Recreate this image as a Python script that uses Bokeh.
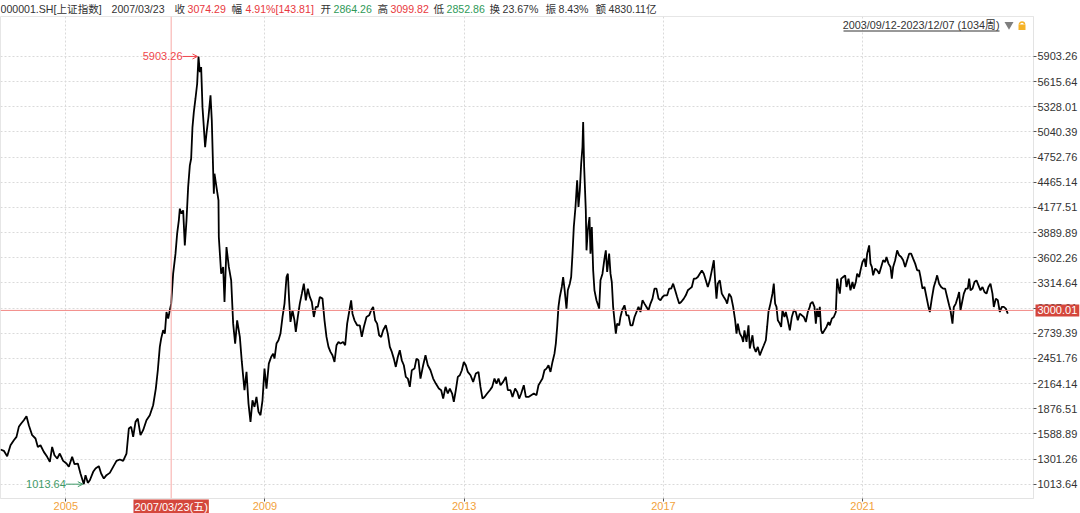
from bokeh.plotting import figure
from bokeh.models import (Range1d, FixedTicker, Span, Label, Arrow, OpenHead,
                          PrintfTickFormatter, GridBox)
from bokeh.embed import file_html
from bokeh.resources import INLINE

# ---------------- data (weekly closes) ----------------
t = [
    2003.689, 2003.756, 2003.823, 2003.890, 2003.957, 2004.010, 2004.057, 2004.104, 2004.157, 2004.211,
    2004.258, 2004.325, 2004.392, 2004.439, 2004.492, 2004.559, 2004.626, 2004.680, 2004.726, 2004.773,
    2004.827, 2004.880, 2004.947, 2005.014, 2005.061, 2005.128, 2005.175, 2005.242, 2005.295, 2005.362,
    2005.396, 2005.443, 2005.483, 2005.550, 2005.597, 2005.663, 2005.710, 2005.764, 2005.817, 2005.884,
    2005.951, 2006.018, 2006.085, 2006.152, 2006.219, 2006.266, 2006.313, 2006.353, 2006.400, 2006.446,
    2006.500, 2006.553, 2006.620, 2006.687, 2006.754, 2006.808, 2006.848, 2006.888, 2006.915, 2006.955,
    2006.989, 2007.022, 2007.056, 2007.089, 2007.116, 2007.156, 2007.203, 2007.236, 2007.270, 2007.290,
    2007.323, 2007.357, 2007.390, 2007.424, 2007.457, 2007.491, 2007.517, 2007.544, 2007.571, 2007.604,
    2007.638, 2007.665, 2007.691, 2007.718, 2007.745, 2007.772, 2007.798, 2007.825, 2007.865, 2007.906,
    2007.932, 2007.959, 2007.973, 2007.986, 2008.026, 2008.066,
    2008.073, 2008.120, 2008.160, 2008.187, 2008.227, 2008.274, 2008.321, 2008.361, 2008.401, 2008.441,
    2008.495, 2008.535, 2008.588, 2008.629, 2008.669, 2008.709, 2008.749, 2008.789, 2008.829, 2008.870,
    2008.910, 2008.950, 2008.990, 2009.030, 2009.077, 2009.124, 2009.164, 2009.191, 2009.231, 2009.271,
    2009.311, 2009.352, 2009.392, 2009.432, 2009.459, 2009.485, 2009.512, 2009.552, 2009.592, 2009.619,
    2009.659, 2009.699, 2009.740, 2009.780, 2009.820, 2009.860, 2009.900, 2009.940, 2009.981, 2010.021,
    2010.061, 2010.101, 2010.155, 2010.195, 2010.235, 2010.275, 2010.315, 2010.355, 2010.396, 2010.436,
    2010.476, 2010.516, 2010.569, 2010.610, 2010.650, 2010.690, 2010.730, 2010.757, 2010.797, 2010.851,
    2010.904, 2010.944, 2010.985, 2011.038, 2011.092, 2011.132, 2011.172, 2011.212, 2011.252, 2011.292,
    2011.333, 2011.373, 2011.426, 2011.466, 2011.507, 2011.547, 2011.587, 2011.627, 2011.667, 2011.707,
    2011.747, 2011.788, 2011.828, 2011.868, 2011.908, 2011.948, 2012.002, 2012.042, 2012.082, 2012.122,
    2012.176, 2012.223, 2012.270, 2012.323, 2012.377, 2012.430, 2012.491, 2012.538, 2012.578, 2012.625,
    2012.671, 2012.712, 2012.758, 2012.792, 2012.832, 2012.872, 2012.912, 2012.953, 2012.993, 2013.033,
    2013.073, 2013.127, 2013.180, 2013.234, 2013.287, 2013.327, 2013.368, 2013.408, 2013.461, 2013.515,
    2013.562, 2013.608, 2013.649, 2013.689, 2013.729, 2013.782, 2013.836, 2013.876, 2013.930, 2013.970,
    2014.023, 2014.064, 2014.104, 2014.144, 2014.197, 2014.238, 2014.291, 2014.345, 2014.398, 2014.452,
    2014.492, 2014.532, 2014.572, 2014.612, 2014.652, 2014.693, 2014.733, 2014.773, 2014.813, 2014.840,
    2014.867, 2014.893, 2014.920, 2014.960, 2014.987, 2015.014, 2015.054, 2015.081, 2015.121, 2015.148,
    2015.175, 2015.201, 2015.235, 2015.268, 2015.295, 2015.322, 2015.349, 2015.375, 2015.389, 2015.409,
    2015.442, 2015.456, 2015.482, 2015.516, 2015.536, 2015.563, 2015.590, 2015.616, 2015.656, 2015.710,
    2015.737, 2015.777, 2015.817, 2015.844, 2015.871, 2015.911, 2015.938, 2015.964, 2015.991, 2016.018,
    2016.045, 2016.071, 2016.112, 2016.138,
    2016.172, 2016.219, 2016.259, 2016.299, 2016.339, 2016.380, 2016.420, 2016.460, 2016.500, 2016.540,
    2016.580, 2016.620, 2016.661, 2016.701, 2016.741, 2016.781, 2016.821, 2016.861, 2016.902, 2016.942,
    2016.982, 2017.022, 2017.076, 2017.116, 2017.156, 2017.196, 2017.236, 2017.276, 2017.317, 2017.357,
    2017.410, 2017.450, 2017.491, 2017.531, 2017.571, 2017.611, 2017.651, 2017.691, 2017.731, 2017.772,
    2017.812, 2017.852, 2017.892, 2017.932, 2017.973, 2018.013, 2018.039, 2018.066, 2018.093, 2018.133,
    2018.173, 2018.213, 2018.254, 2018.280, 2018.320, 2018.361, 2018.401, 2018.441, 2018.468, 2018.495,
    2018.535, 2018.575, 2018.602, 2018.628, 2018.669, 2018.709, 2018.735, 2018.762, 2018.789, 2018.816,
    2018.856, 2018.896, 2018.936, 2018.976, 2019.017, 2019.057, 2019.083, 2019.110, 2019.150, 2019.190,
    2019.217, 2019.244, 2019.271, 2019.298, 2019.338, 2019.365, 2019.391, 2019.431, 2019.458, 2019.498,
    2019.539, 2019.579, 2019.619, 2019.659, 2019.699, 2019.739, 2019.780, 2019.820, 2019.860, 2019.900,
    2019.940,
    2019.954, 2019.994, 2020.034, 2020.061, 2020.088, 2020.115, 2020.141, 2020.168, 2020.195, 2020.235,
    2020.275, 2020.315, 2020.342, 2020.382, 2020.422, 2020.463, 2020.489, 2020.516, 2020.543, 2020.570,
    2020.610, 2020.650, 2020.677, 2020.717, 2020.757, 2020.797, 2020.824, 2020.864, 2020.891, 2020.931,
    2020.958, 2020.998, 2021.038, 2021.065, 2021.092, 2021.132, 2021.159, 2021.186, 2021.212, 2021.252,
    2021.293, 2021.333, 2021.373, 2021.413, 2021.453, 2021.480, 2021.520, 2021.560, 2021.587, 2021.614,
    2021.654, 2021.694, 2021.734, 2021.775, 2021.815, 2021.855, 2021.895, 2021.935, 2021.975, 2022.015,
    2022.056, 2022.096, 2022.136, 2022.163, 2022.203, 2022.243, 2022.283, 2022.323, 2022.350, 2022.390,
    2022.430, 2022.471, 2022.497, 2022.537, 2022.578, 2022.618, 2022.658, 2022.698, 2022.738, 2022.765,
    2022.805, 2022.832, 2022.872, 2022.912, 2022.939, 2022.966, 2023.006, 2023.033, 2023.073, 2023.113,
    2023.140, 2023.167, 2023.207, 2023.247, 2023.287, 2023.327, 2023.367, 2023.408, 2023.448, 2023.488,
    2023.528, 2023.568, 2023.608, 2023.635, 2023.675, 2023.715, 2023.756, 2023.796, 2023.836, 2023.876,
    2023.916,
]
close = [
    1410, 1395, 1334, 1459, 1516, 1554, 1669, 1707, 1745, 1791,
    1688, 1574, 1536, 1440, 1459, 1383, 1326, 1269, 1440, 1345,
    1307, 1364, 1280, 1250, 1212, 1326, 1242, 1250, 1136, 1013.64,
    1117, 1029, 1059, 1155, 1193, 1220, 1136, 1078, 1117, 1143,
    1212, 1280, 1296, 1280, 1364, 1650, 1669, 1554, 1726, 1764,
    1574, 1631, 1745, 1802, 1916, 2107, 2316, 2583, 2678, 2773,
    2735, 2982, 2906, 3002, 3074.29, 3420, 3649, 3877, 4030, 4163,
    4106, 4144, 3744, 4030, 4410, 4658, 4734, 5096, 5267, 5420,
    5591, 5903.26, 5724, 5781, 5324, 5096, 4867, 5020, 5210, 5458,
    5172, 4601, 4334, 4563, 4410, 4258,
    3839, 3420, 3497, 3097, 3725, 3497, 3344, 2849, 2621, 2887,
    2697, 2411, 2088, 2297, 1935, 1726, 1973, 1897, 2011, 1840,
    1802, 1973, 2335, 2107, 2392, 2468, 2506, 2449, 2621, 2659,
    2735, 2925, 3078, 3382, 3420, 3116, 2868, 3002, 2887, 2754,
    2925, 3078, 3192, 3306, 3116, 3249, 3154, 3097, 2925, 3040,
    3040, 3154, 3135, 2887, 2697, 2583, 2526, 2487, 2411, 2602,
    2640, 2621, 2640, 2602, 2849, 2982, 3116, 2963, 2887, 2830,
    2830, 2697, 2811, 2925, 2944, 3002, 3040, 2887, 2849, 2716,
    2697, 2773, 2830, 2735, 2583, 2526, 2449, 2354, 2468, 2545,
    2430, 2373, 2240, 2221, 2126, 2316, 2335, 2449, 2430, 2221,
    2373, 2487, 2373, 2316, 2221, 2164, 2107, 2088, 1992, 2126,
    2050, 2107, 2050, 1954, 2088, 2240, 2259, 2316, 2411, 2373,
    2297, 2259, 2183, 2278, 2297, 2126, 1992, 2011, 2050, 2088,
    2126, 2221, 2164, 2221, 2145, 2183, 2240, 2088, 2088, 2011,
    2107, 2069, 1992, 2050, 2145, 2011, 2011, 2031, 2050, 2031,
    2145, 2183, 2221, 2316, 2335, 2373, 2297, 2411, 2506, 2621,
    2811, 3040, 3154, 3268, 3382, 3249, 3021, 3230, 3306, 3382,
    3649, 3954, 4182, 4487, 4182, 4372, 4677, 4867, 5153, 4639,
    4144, 3687, 3915, 4068, 3649, 3954, 3458, 3230, 3116, 3021,
    3344, 3420, 3592, 3687, 3439, 3649, 3420, 3325, 3040, 2887,
    2735, 2849, 2830, 2925,
    3002, 3059, 2944, 2944, 2830, 2830, 2925, 2982, 3040, 2982,
    3116, 3078, 3040, 3002, 3078, 3135, 3249, 3249, 3135, 3116,
    3154, 3173, 3173, 3249, 3249, 3306, 3230, 3154, 3078, 3097,
    3135, 3173, 3230, 3249, 3268, 3363, 3363, 3382, 3420, 3458,
    3420, 3344, 3268, 3344, 3458, 3573, 3344, 3135, 3306, 3344,
    3192, 3154, 3116, 3078, 3192, 3154, 3040, 2887, 2735, 2849,
    2735, 2697, 2640, 2773, 2640, 2830, 2564, 2640, 2716, 2583,
    2526, 2583, 2487, 2545, 2602, 2659, 2811, 2982, 3078, 3192,
    3306, 3078, 3040, 2887, 2849, 2811, 3002, 2925, 2982, 2887,
    2773, 2925, 3002, 2982, 2887, 2963, 2944, 2925, 2868, 2982,
    3040,
    3078, 3097, 3040, 2849, 3021, 2925, 3040, 2773, 2735, 2773,
    2811, 2868, 2830, 2906, 2925, 2982, 3363, 3268, 3192, 3363,
    3382, 3401, 3268, 3363, 3230, 3325, 3249, 3325, 3420, 3382,
    3458, 3554, 3592, 3497, 3649, 3744, 3535, 3497, 3401, 3478,
    3458, 3420, 3497, 3573, 3554, 3611, 3535, 3497, 3363, 3497,
    3573, 3687, 3630, 3611, 3573, 3497, 3573, 3649, 3649, 3592,
    3535, 3458, 3458, 3382, 3249, 3268, 3154, 3040, 2982, 3135,
    3268, 3344, 3401, 3306, 3268, 3249, 3249, 3154, 3059, 3002,
    2849, 3040, 3078, 3154, 3211, 3002, 3116, 3192, 3249, 3249,
    3363, 3230, 3249, 3325, 3344, 3287, 3230, 3268, 3211, 3192,
    3268, 3306, 3192, 3040, 3135, 3116, 2982, 3040, 3040, 3021,
    2963,
]

y_ticks = [1013.64, 1301.26, 1588.89, 1876.51, 2164.14, 2451.76, 2739.39, 3027.01, 3314.64,
           3602.26, 3889.89, 4177.51, 4465.14, 4752.76, 5040.39, 5328.01, 5615.64, 5903.26]
year_ticks = [2005, 2009, 2013, 2017, 2021]
ref_level = 3000.01
cross_date_label = "2007/03/23(五)"
cross_close = 3074.29

header = [
    ("000001.SH[上证指数]", "dark"), ("2007/03/23", "dark"),
    ("收", "dark"), ("3074.29", "red"), ("幅", "dark"), ("4.91%[143.81]", "red"),
    ("开", "dark"), ("2864.26", "green"), ("高", "dark"), ("3099.82", "red"),
    ("低", "dark"), ("2852.86", "green"), ("换", "dark"), ("23.67%", "dark"),
    ("振", "dark"), ("8.43%", "dark"), ("额", "dark"), ("4830.11亿", "dark"),
]
header_px = [0, 111, 174, 187, 231, 245, 320, 333, 377, 390, 433, 446, 489, 502, 545, 558, 595, 608]
range_text = "2003/09/12-2023/12/07 (1034周)"

# ---------------- styling / layout ----------------
FONT = "Liberation Sans, Noto Sans CJK SC"
COLORS = {"dark": "#333333", "red": "#e8383d", "green": "#2f9a58"}
ANN_RED = "#f0474c"
ANN_GREEN = "#3f9a68"
BOX_RED = "#d4473c"
W, H = 1080, 513
FL, FR, FT, FB = 0, 1033, 16, 498
X0, X1 = 2003.689, 2024.432
Y0, Y1 = 850.0, 6360.0


def xd(px):
    return X0 + (px - FL) * (X1 - X0) / (FR - FL)


def yd(py):
    return Y1 - (py - FT) * (Y1 - Y0) / (FB - FT)


def xpx(x):
    return FL + (x - X0) * (FR - FL) / (X1 - X0)


def ypx(y):
    return FT + (Y1 - y) * (FB - FT) / (Y1 - Y0)


DX = (X1 - X0) / (FR - FL)

# ---------------- main chart ----------------
p = figure(width=W, height=H, x_range=Range1d(X0, X1), y_range=Range1d(Y0, Y1),
           y_axis_location="right", output_backend="svg", toolbar_location=None,
           title=None, min_border_left=0, min_border_right=W - FR,
           min_border_top=FT, min_border_bottom=H - FB)
p.frame_align = False
p.background_fill_color = "white"
p.border_fill_color = "white"
p.outline_line_color = "#e6e6e6"

p.yaxis.ticker = FixedTicker(ticks=y_ticks)
p.yaxis.formatter = PrintfTickFormatter(format="%.2f")
p.yaxis.axis_line_color = "#e3e3e3"
p.yaxis.major_tick_line_color = "#555555"
p.yaxis.major_tick_out = 3
p.yaxis.major_tick_in = 0
p.yaxis.minor_tick_line_color = None
p.yaxis.major_label_standoff = 1
p.yaxis.major_label_text_font = FONT
p.yaxis.major_label_text_font_size = "11px"
p.yaxis.major_label_text_color = "#333333"

p.xaxis.ticker = FixedTicker(ticks=year_ticks)
p.xaxis.formatter = PrintfTickFormatter(format="%d")
p.xaxis.axis_line_color = "#e3e3e3"
p.xaxis.major_tick_line_color = "#555555"
p.xaxis.major_tick_out = 3
p.xaxis.major_tick_in = 0
p.xaxis.minor_tick_line_color = None
p.xaxis.major_label_standoff = 0
p.xaxis.major_label_text_font = FONT
p.xaxis.major_label_text_font_size = "11px"
p.xaxis.major_label_text_color = "#f2a23c"

for g in (p.xgrid, p.ygrid):
    g.grid_line_color = "#dadada"
    g.grid_line_dash = "2 2"
    g.grid_line_width = 1

cross_idx = close.index(cross_close)
p.add_layout(Span(location=ref_level, dimension="width", line_color="#f28a86", line_width=1))
p.add_layout(Span(location=t[cross_idx], dimension="height", line_color="#f7a9a6", line_width=1))

p.line(t, close, line_color="black", line_width=1.8)

i_max = close.index(max(close))
i_min = close.index(min(close))
p.add_layout(Arrow(end=OpenHead(size=5, line_color=ANN_RED, line_width=1),
                   x_start=t[i_max] - 16 * DX, y_start=close[i_max],
                   x_end=t[i_max] - 1 * DX, y_end=close[i_max],
                   line_color=ANN_RED, line_width=1))
p.add_layout(Label(x=t[i_max] - 16 * DX, y=close[i_max], text="%.2f" % close[i_max],
                   text_align="right", text_baseline="middle", text_color=ANN_RED,
                   text_font=FONT, text_font_size="11px"))
p.add_layout(Arrow(end=OpenHead(size=5, line_color=ANN_GREEN, line_width=1),
                   x_start=t[i_min] - 18 * DX, y_start=close[i_min],
                   x_end=t[i_min] - 1 * DX, y_end=close[i_min],
                   line_color=ANN_GREEN, line_width=1))
p.add_layout(Label(x=t[i_min] - 18 * DX, y=close[i_min], text="%.2f" % close[i_min],
                   text_align="right", text_baseline="middle", text_color=ANN_GREEN,
                   text_font=FONT, text_font_size="11px"))

# range text, dropdown triangle and lock icon (inside the frame)
p.add_layout(Label(x=xd(999), y=yd(24), text=range_text, text_align="right",
                   text_baseline="middle", text_color="#333333", text_font=FONT,
                   text_font_size="10.8px"))
p.segment(x0=[xd(843)], y0=[yd(30.5)], x1=[xd(999)], y1=[yd(30.5)], line_color="#333333",
          line_width=1)
p.scatter([xd(1008.5)], [yd(24)], marker="inverted_triangle", size=9, fill_color="#7f7f7f",
          line_color=None)
p.quad(left=[xd(1018)], right=[xd(1025)], top=[yd(24)], bottom=[yd(29.5)],
       fill_color="#f5b226", line_color=None)
p.arc(x=[xd(1021.5)], y=[yd(24)], radius=2.6, radius_units="screen", start_angle=0,
      end_angle=3.14159, line_color="#f5b226", line_width=1.5)

# ---------------- transparent overlay for texts outside the plot frame ----------------
ov = figure(width=W, height=H, x_range=Range1d(0, W), y_range=Range1d(H, 0),
            x_axis_location=None, y_axis_location=None, output_backend="svg",
            toolbar_location=None, title=None, min_border=0)
ov.frame_align = False
ov.background_fill_alpha = 0
ov.border_fill_alpha = 0
ov.outline_line_color = None
for g in ov.grid:
    g.visible = False

for (txt, c), px in zip(header, header_px):
    ov.add_layout(Label(x=px, y=8, text=txt, text_align="left", text_baseline="middle",
                        text_color=COLORS[c], text_font=FONT, text_font_size="10.6px"))

ov.add_layout(Label(x=FR + 2, y=ypx(ref_level), text="%.2f" % ref_level, text_align="left",
                    text_baseline="middle", text_color="white", text_font=FONT,
                    text_font_size="11px", background_fill_color=BOX_RED, padding=2))
ov.add_layout(Label(x=xpx(t[cross_idx]), y=506, text=cross_date_label, text_align="center",
                    text_baseline="middle", text_color="white", text_font=FONT,
                    text_font_size="11px", background_fill_color=BOX_RED, padding=1))

root = GridBox(children=[(p, 0, 0), (ov, 0, 0)])

open("out.html", "w").write(file_html(root, INLINE))
